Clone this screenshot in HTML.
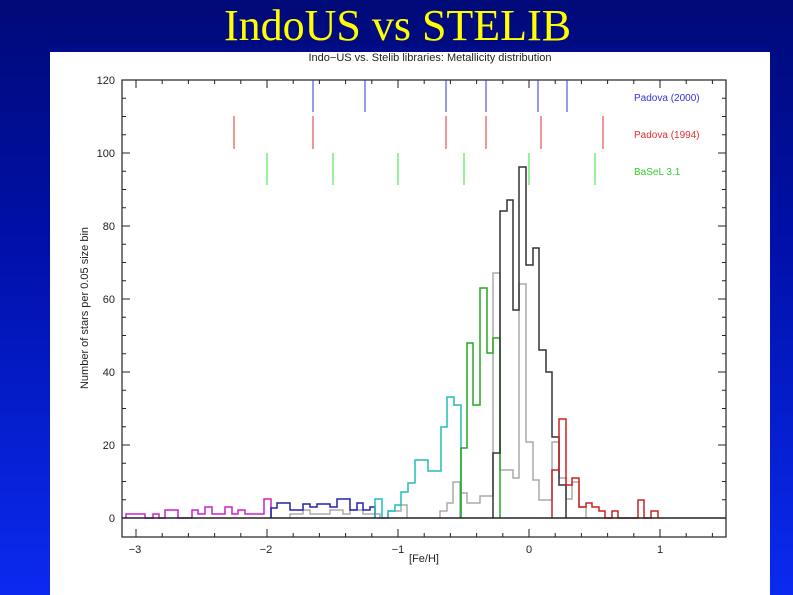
<!DOCTYPE html>
<html><head><meta charset="utf-8"><style>
html,body{margin:0;padding:0}
body{width:793px;height:595px;overflow:hidden;background:linear-gradient(#000a78 0%,#0010a8 40%,#0a2af0 100%);position:relative}
#t{position:absolute;left:0;width:793px;top:1px;text-align:center;color:#ffff00;font-family:"Liberation Serif",serif;font-size:44px;line-height:50px;padding-left:2px;box-sizing:border-box}
svg{position:absolute;left:0;top:0}
text{font-family:"Liberation Sans",sans-serif}
</style></head><body>
<div id="t">IndoUS vs STELIB</div>
<svg width="793" height="595" viewBox="0 0 793 595">
<rect x="50" y="52" width="720" height="543" fill="#fff"/>
<text x="430" y="61" font-size="11" text-anchor="middle" fill="#222">Indo−US vs. Stelib libraries: Metallicity distribution</text>
<rect x="50" y="46" width="720" height="6" fill="#000c8a"/>
<rect x="122" y="80" width="604" height="457" fill="none" stroke="#222" stroke-width="1.2"/>
<g stroke="#222" stroke-width="1" id="ticks"></g>
<g font-size="11" fill="#222" text-anchor="end">
<text x="115" y="522">0</text><text x="115" y="449">20</text><text x="115" y="376">40</text><text x="115" y="303">60</text><text x="115" y="230">80</text><text x="115" y="157">100</text><text x="115" y="84">120</text>
</g>
<g font-size="11" fill="#222" text-anchor="middle">
<text x="135" y="553">−3</text><text x="266" y="553">−2</text><text x="398" y="553">−1</text><text x="529" y="553">0</text><text x="660" y="553">1</text>
<text x="424" y="562">[Fe/H]</text>
</g>
<text transform="translate(88,308) rotate(-90)" font-size="11" fill="#222" text-anchor="middle">Number of stars per 0.05 size bin</text>
<g stroke-width="1">
<g stroke="#3333dd"><path d="M313 80V112M365 80V112M446 80V112M486 80V112M538 80V112M567 80V112"/></g>
<g stroke="#e03030"><path d="M234 116V149M313 116V149M446 116V149M486 116V149M541 116V149M603 116V149"/></g>
<g stroke="#30e030"><path d="M267 153V185M333 153V185M398 153V185M464 153V185M529 153V185M595 153V185"/></g>
</g>
<g font-size="10">
<text x="634" y="101" fill="#3333dd">Padova (2000)</text>
<text x="634" y="138" fill="#e03030">Padova (1994)</text>
<text x="634" y="175" fill="#30d030">BaSeL 3.1</text>
</g>
<g fill="none" stroke-width="1.5">
<path stroke="#aaa" d="M290 518V514H303V510H310V514H330V510H343V514H350V510H363V514H380V518M388 518V511H401V505H407V518M440 518V511H447V503H453V482H460V518M460 518V493H467V503H480V496H487V496H493V273H500V470H513V478H519V284H526V442H533V480H539V500H546V500H552V442H559V478H566V499H572V482H579V507H586V518"/>
<path stroke="#cc22cc" d="M126 518V514H145V518H153V514H159V518H165V510H178V518H192V510H198V514H205V507H212V514H225V507H232V514H238V510H245V514H264V499H271V518"/>
<path stroke="#2222aa" d="M271 518V508H277V503H290V510H303V504H310V507H317V504H330V507H337V499H350V510H357V503H363V510H370V507H375V518"/>
<path stroke="#22bbbb" d="M375 518V499H382V518H388V511H395V505H401V492H408V483H415V460H421V460H428V471H441V427H447V397H454V405H461V518"/>
<path stroke="#22aa22" d="M461 518V448H467V343H473V405H480V288H487V353H493V338H500V518"/>
<path stroke="#333" d="M493 518V453H500V211H507V200H513V310H519V167H526V265H533V248H539V350H546V372H552V437H559V485H566V518"/>
<path stroke="#cc2222" d="M552 518V470H559V419H566V485H572V478H579V507H586V503H592V507H599V511H605V518H612V511H618V518H638V500H644V518H651V511H658V518"/>
</g>
<line x1="122" y1="518" x2="726" y2="518" stroke="#222" stroke-width="1.5"/>
</svg>
<script>
var g=document.getElementById('ticks'),s='';
for(var i=0;i<=24;i++){var y=518-i*18.25;var L=(i%4==0)?8:4;s+='M122 '+y+'h'+L+'M726 '+y+'h-'+L;}
for(var v=-3;v<=1.5001;v+=0.2){var x=529+131*v;var L=(Math.abs(v-Math.round(v))<0.01)?8:4;s+='M'+x+' 537v-'+L+'M'+x+' 80v'+L;}
var p=document.createElementNS('http://www.w3.org/2000/svg','path');p.setAttribute('d',s);g.appendChild(p);
</script>
</body></html>
